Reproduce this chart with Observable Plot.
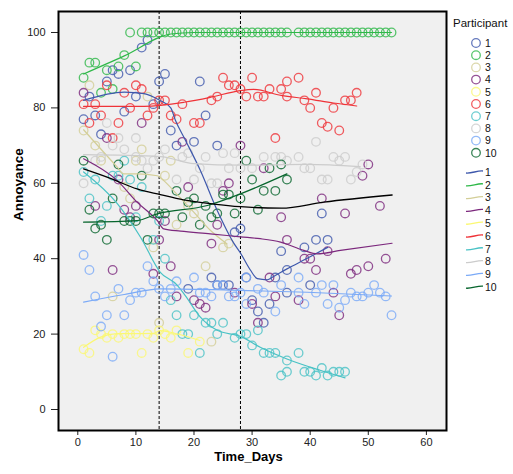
<!DOCTYPE html>
<html><head><meta charset="utf-8">
<script src="https://cdn.jsdelivr.net/npm/d3@7"></script>
<script src="https://cdn.jsdelivr.net/npm/@observablehq/plot@0.6"></script>
<style>
body{margin:0;background:#fff;font-family:"Liberation Sans",Arial,sans-serif;}
#wrap{position:relative;width:513px;height:474px;}
#legend{position:absolute;left:0;top:0;pointer-events:none;}
</style></head><body><div id="wrap"></div>
<script>
const participants = ["1","2","3","4","5","6","7","8","9","10"];
const colors = ["#3E58AC","#2EB848","#D3CE97","#7C287D","#FBF873","#EF3338","#48C2C5","#CCCCCC","#7BAAF7","#07652D"];
const xTicks = [0,10,20,30,40,50,60];
const yTicks = [0,20,40,60,80,100];
const phaseDays = [14,28];

// observations [day, annoyance]
const p1 = [[1,77],[2,83],[3,78],[4,73],[5,87],[6,90],[7,89],[8,79],[9,90],[10,83],[11,96],[12,98],[13,81],[14,87],[15,89],[16,74],[17,70],[19,32],[20,71],[21,87],[22,78],[23,35],[24,70],[24,33],[25,33],[26,33],[27,47],[28,48],[29,35],[30,29],[31,26],[32,23],[33,28],[34,35],[35,42],[36,37],[36,31],[39,43],[40,33],[41,45],[42,52],[43,45]];
const p2 = [[1,88],[2,92],[3,92],[4,84],[5,90],[6,85],[7,91],[8,94],[9,100],[10,91],[11,100],[12,100],[13,100],[14,100],[15,100],[16,100],[17,100],[18,100],[19,100],[20,100],[21,100],[22,100],[23,100],[24,100],[25,100],[26,100],[27,100],[28,100],[29,100],[30,100],[31,100],[32,100],[33,100],[34,100],[35,100],[36,100],[38,100],[39,100],[40,100],[41,100],[42,100],[43,100],[44,100],[45,100],[46,100],[47,100],[48,100],[49,100],[50,100],[51,100],[52,100],[53,100],[54,100]];
const p3 = [[1,74],[2,86],[3,70],[4,66],[6,30],[8,59],[9,56],[10,66],[11,69],[12,83],[13,43],[14,23],[15,62],[16,66],[17,49],[19,54],[20,52],[22,38],[23,18],[25,43],[26,44]];
const p4 = [[1,84],[3,54],[5,72],[6,37],[7,61],[8,53],[9,51],[10,54],[11,76],[13,36],[14,45],[15,50],[16,38],[17,30],[18,71],[19,59],[20,29],[21,28],[22,27],[23,44],[24,49],[25,58],[26,60],[27,31],[28,70],[30,28],[31,23],[32,64],[33,35],[34,30],[35,51],[36,45],[38,29],[39,40],[40,40],[41,37],[42,56],[43,42],[44,31],[45,25],[46,52],[47,36],[48,37],[49,62],[50,65],[50,38],[52,54],[53,40]];
const p5 = [[1,16],[2,15],[3,21],[4,20],[5,19],[6,20],[7,19],[8,20],[9,20],[10,20],[11,15],[12,20],[13,19],[14,21],[15,20],[16,19],[17,21],[19,15],[21,18]];
const p6 = [[1,81],[2,76],[3,81],[4,78],[5,86],[6,72],[7,76],[8,84],[9,80],[10,86],[11,85],[12,78],[13,80],[14,82],[15,82],[16,78],[17,77],[18,81],[20,76],[21,76],[23,82],[24,83],[25,88],[26,86],[27,86],[28,85],[29,83],[30,88],[31,83],[32,83],[33,85],[34,72],[35,85],[36,87],[36,83],[38,88],[39,82],[40,80],[41,84],[42,76],[43,75],[44,80],[45,74],[46,82],[47,82],[48,84]];
const p7 = [[1,63],[2,56],[3,61],[4,50],[5,54],[6,62],[7,62],[8,66],[9,61],[10,51],[11,59],[13,45],[14,50],[15,40],[16,29],[17,25],[18,20],[19,20],[20,25],[21,15],[22,23],[23,23],[24,20],[25,23],[27,19],[28,20],[29,20],[30,17],[31,21],[32,15],[33,15],[34,15],[35,9],[36,13],[36,10],[38,15],[39,10],[40,10],[41,9],[42,11],[43,9],[44,10],[45,10],[46,10]];
const p8 = [[1,60],[3,66],[4,67],[5,76],[6,70],[7,72],[8,69],[10,72],[10,67],[11,66],[12,64],[13,66],[14,67],[15,69],[17,61],[18,67],[19,68],[20,61],[21,64],[22,67],[23,60],[24,60],[25,68],[26,64],[27,68],[28,64],[30,64],[32,67],[34,67],[35,67],[36,66],[38,67],[39,64],[40,64],[41,71],[42,61],[43,61],[44,67],[45,66],[46,67],[47,61],[48,63],[49,65]];
const p9 = [[1,41],[2,37],[3,30],[4,22],[5,25],[6,14],[7,32],[8,25],[9,29],[10,31],[11,31],[12,38],[13,34],[14,32],[15,30],[16,32],[17,34],[20,35],[21,31],[22,31],[23,30],[24,33],[25,33],[26,30],[27,30],[28,31],[29,28],[29,35],[31,32],[32,31],[34,26],[35,33],[38,31],[38,35],[39,28],[41,31],[42,33],[43,28],[44,33],[45,27],[46,29],[47,31],[48,30],[49,30],[50,31],[51,33],[52,31],[53,30],[54,25]];
const p10 = [[1,66],[2,53],[3,48],[4,49],[5,45],[6,56],[7,65],[8,50],[9,50],[10,50],[11,62],[12,45],[13,52],[14,52],[15,52],[17,58],[18,51],[19,55],[20,56],[21,49],[22,54],[23,51],[24,52],[25,57],[26,57],[27,52],[28,56],[29,66],[30,61],[31,53],[32,58],[33,64],[34,58],[35,65],[36,61]];

// fitted (loess) curves [day, annoyance]
const fit1 = [[1,82],[8,84.2],[11.4,83.8],[14,82.1],[16,80],[16.8,76.7],[18.5,71.5],[21.1,63.4],[24,52.8],[26.9,44],[28,41.5],[29.7,37],[30.9,34.7],[32.6,34.4],[33.7,35.3],[36,37.3],[39.5,40.1],[43,43]];
const fit2 = [[1,89],[8,93.8],[16,99.6],[20,100],[54,100]];
const fit3 = [[1,74.2],[6.8,64.3],[7.9,62.5],[10.2,62.5],[13.7,62],[14.8,60.7],[17,57.2],[20,52.3],[22.9,47.4],[25.7,43.9]];
const fit4 = [[1,66.5],[6.8,60.7],[10.2,55],[13.7,50.1],[14.8,47.9],[17.7,47.3],[22.8,46.6],[28,45.8],[31.4,45.3],[34.9,44.4],[38.9,42.2],[41.2,41.3],[45.2,42.2],[54.1,44.1]];
const fit5 = [[1,16.5],[3.9,19.2],[6.8,20.1],[13,20.2],[14.2,20.9],[16.5,20.3],[21,18.3]];
const fit6 = [[1,80.4],[11.4,80.4],[18.3,81.5],[22.8,82.8],[28,84.6],[30.3,84.9],[35,83.3],[39.5,82.4],[44,81.3],[48,80.5]];
const fit7 = [[1,63],[6.8,54.6],[10.8,45.7],[14.2,36.4],[17.1,33],[18.5,30.2],[21.1,24.5],[24,21],[28,19.4],[31.4,16.5],[36,13.4],[41.7,10.4],[46,8.4]];
const fit8 = [[1,67.6],[14.2,67.1],[20,65.2],[28,64.8],[39.5,65],[48.6,64.4]];
const fit9 = [[1,28.5],[8,30.5],[14.2,32],[28,31.6],[39.5,31.1],[54,30.1]];
const fit10 = [[1,49.7],[10.2,50.1],[13.7,51.9],[22.3,54.1],[28,57.2],[36,62.5]];
const fitAll = [[1,63.8],[5.6,61.3],[10.2,58.5],[14.2,57],[18.2,55.6],[23.4,54.5],[28,53.8],[35,53.4],[42.3,55],[54.1,56.9]];

const obs = [p1,p2,p3,p4,p5,p6,p7,p8,p9,p10];
const fits = [fit1,fit2,fit3,fit4,fit5,fit6,fit7,fit8,fit9,fit10];
const points = obs.flatMap((arr,i)=>arr.map(([d,a])=>({day:d,ann:a,p:participants[i]})));
const fitRows = fits.flatMap((arr,i)=>arr.map(([d,a])=>({day:d,ann:a,p:participants[i]})));

const font = '"Liberation Sans", Arial, sans-serif';
const chart = Plot.plot({
  width:513, height:474,
  marginLeft:58, marginRight:67, marginTop:11, marginBottom:44,
  x:{domain:[-3.32,63.46], ticks:xTicks, tickSize:5, tickPadding:3, label:null},
  y:{domain:[-5.57,105.57], ticks:yTicks, tickSize:7, tickPadding:6, label:null},
  color:{domain:participants, range:colors},
  style:{fontFamily:font, fontSize:"11px", color:"#222", background:"white", overflow:"visible"},
  marks:[
    Plot.frame({fill:"#f0f0f0"}),
    Plot.ruleX(phaseDays,{stroke:"#000", strokeDasharray:"3,2", strokeWidth:1}),
    Plot.dot(points,{x:"day", y:"ann", stroke:"p", r:4.3, strokeWidth:1.3, strokeOpacity:0.8}),
    Plot.line(fitRows,{x:"day", y:"ann", stroke:"p", z:"p", curve:"monotone-x", strokeWidth:1.2}),
    Plot.line(fitAll,{x:d=>d[0], y:d=>d[1], stroke:"#000", curve:"monotone-x", strokeWidth:1.3}),
    Plot.frame({stroke:"#000", strokeWidth:2}),
    Plot.text(["Annoyance"],{frameAnchor:"left", dx:-40, rotate:-90, fontWeight:"bold", fontSize:13.5, fill:"#000"}),
    Plot.text(["Time_Days"],{frameAnchor:"bottom", dx:-4, dy:30, fontWeight:"bold", fontSize:13, fill:"#000"})
  ]
});
const wrap = document.getElementById("wrap");
wrap.appendChild(chart);

// legend
const leg = d3.select(wrap).append("svg").attr("id","legend").attr("width",513).attr("height",474)
  .style("font-family",font).style("font-size","10.5px");
leg.append("text").attr("x",453).attr("y",27).text("Participant").attr("fill","#111").style("font-size","11.5px");
participants.forEach((p,i)=>{
  const y = 43 + i*12.2;
  leg.append("circle").attr("cx",476).attr("cy",y).attr("r",4.3).attr("fill","none")
    .attr("stroke",colors[i]).attr("stroke-width",1.3).attr("stroke-opacity",0.8);
  leg.append("text").attr("x",485).attr("y",y+3.8).text(p).attr("fill","#111");
});
participants.forEach((p,i)=>{
  const y = 172 + i*12.8;
  leg.append("path").attr("d",`M466,${y+1} C472,${y+1.5} 477,${y-1.5} 483,${y-1}`)
    .attr("fill","none").attr("stroke",colors[i]).attr("stroke-width",1.3);
  leg.append("text").attr("x",485).attr("y",y+3.8).text(p).attr("fill","#111");
});
</script></body></html>
